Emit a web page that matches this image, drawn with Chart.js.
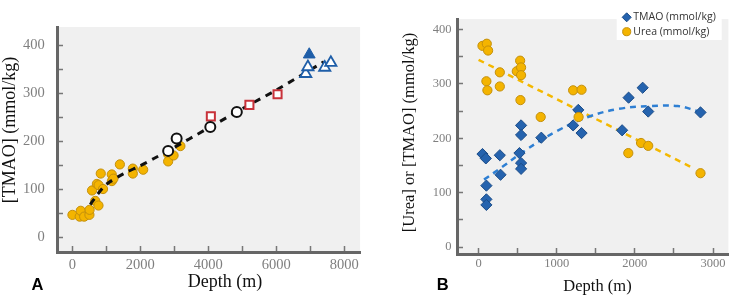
<!DOCTYPE html>
<html><head><meta charset="utf-8">
<script src="https://cdn.jsdelivr.net/npm/chart.js@4.4.1/dist/chart.umd.min.js"></script>
<style>
html,body{margin:0;padding:0;background:#fff;}
#wrap{position:relative;width:735px;height:298px;overflow:hidden;}
#ca{position:absolute;left:0;top:0;}
#cb{position:absolute;left:370px;top:0;}
</style></head><body>
<div id="wrap"><canvas id="ca" width="370" height="298"></canvas><canvas id="cb" width="365" height="298"></canvas></div>
<script>
// ---------- Panel A data (Depth m, [TMAO] mmol/kg) ----------
const aYellowX = [5, 219, 249, 350, 505, 510, 581, 676, 771, 724, 775, 905, 838, 1162, 1165, 1210, 1400, 1781, 1781, 2086, 2820, 2820, 2980, 3180];
const aYellowY = [46.5, 42.8, 55, 42.8, 46.5, 57, 97.4, 75.6, 66, 111, 108.5, 100.4, 132.7, 130.8, 117, 122, 151.8, 143, 132.7, 140.7, 172.9, 158, 170.4, 190];
const aOpenCircleX = [2820, 3070, 4060, 4840];
const aOpenCircleY = [180, 206, 230, 261];
const aSquareX = [4076, 5210, 6038];
const aSquareY = [252, 276, 298];
const aFilledTriX = [6970];
const aFilledTriY = [381];
const aOpenTriX = [6866, 6930, 7425, 7605];
const aOpenTriY = [341, 355, 354, 364];
const aFitX = [530, 750, 1000, 1500, 2000, 2400, 2820, 4060, 5000, 6000, 7400];
const aFitY = [68, 90, 110, 132, 149, 164, 180, 230, 268, 307, 366];
const aTickX = [0, 1000, 2000, 3000, 4000, 5000, 6000, 7000, 8000];
const aLabelX = [0, 2000, 4000, 6000, 8000];
const aTickY = [0, 50, 100, 150, 200, 250, 300, 350, 400];
const aLabelY = [0, 100, 200, 300, 400];

// ---------- Panel B data (Depth m, [Urea]/[TMAO] mmol/kg) ----------
const bTmaoX = [50, 93, 272, 281, 100, 100, 100, 523, 544, 544, 544, 544, 803, 1210, 1318, 1276, 2100, 1920, 2171, 1837, 2840];
const bTmaoY = [171, 163, 168.8, 133, 113, 87.8, 77.6, 172.7, 154.5, 143.8, 223.6, 206, 201, 223.6, 209.5, 252, 292.7, 274.5, 249, 214.6, 247.4];
const bUreaX = [50, 105, 122, 100, 113, 272, 272, 489, 532, 544, 544, 536, 795, 1210, 1318, 1280, 1916, 2079, 2171, 2840];
const bUreaY = [369.6, 373.5, 361, 304.6, 288, 321, 295, 323, 342.4, 330, 315.8, 270, 239, 288, 289, 239, 172.7, 191.3, 186, 135.8];
const bTmaoFitX = [70, 300, 600, 1000, 1400, 1800, 2200, 2550, 2800];
const bTmaoFitY = [124, 147, 178, 213, 239, 254, 259, 259, 250];
const bUreaFitX = [0, 2750];
const bUreaFitY = [344, 145];
const bTickX = [0, 500, 1000, 1500, 2000, 2500, 3000];
const bLabelX = [0, 1000, 2000, 3000];
const bTickY = [0, 50, 100, 150, 200, 250, 300, 350, 400];
const bLabelY = [0, 100, 200, 300, 400];

const SERIF = '"Liberation Serif", "Times New Roman", serif';
const SANS = '"Liberation Sans", Arial, sans-serif';
const pts = (xs, ys) => xs.map((x, i) => ({x: x, y: ys[i]}));

const bgPlugin = {
  id: 'plotBg',
  beforeDraw(chart) {
    const {ctx, chartArea: a} = chart;
    ctx.save();
    ctx.fillStyle = '#f0f0f0';
    ctx.fillRect(a.left, a.top, a.right - a.left, a.bottom - a.top);
    ctx.restore();
  }
};

const textPlugin = {
  id: 'panelText',
  afterDraw(chart, args, o) {
    const ctx = chart.ctx;
    (o.items || []).forEach(t => {
      ctx.save();
      ctx.font = t.font;
      ctx.fillStyle = t.color || '#111';
      ctx.textAlign = t.align || 'center';
      ctx.textBaseline = t.baseline || 'middle';
      ctx.translate(t.x, t.y);
      if (t.rot) ctx.rotate(t.rot);
      ctx.fillText(t.text, 0, 0);
      ctx.restore();
    });
  }
};

const legendPlugin = {
  id: 'boxLegend',
  afterDraw(chart, args, o) {
    if (!o.entries) return;
    const ctx = chart.ctx;
    ctx.save();
    ctx.fillStyle = '#ffffff';
    ctx.fillRect(o.x, o.y, o.w, o.h);
    ctx.font = o.font;
    ctx.textAlign = 'left';
    ctx.textBaseline = 'middle';
    o.entries.forEach((idx, i) => {
      const ds = chart.data.datasets[idx];
      const cx = o.x + o.mx, cy = o.y + o.first + i * o.gap, r = o.r;
      ctx.beginPath();
      if (ds.pointStyle === 'rectRot') {
        ctx.moveTo(cx - r, cy); ctx.lineTo(cx, cy - r); ctx.lineTo(cx + r, cy); ctx.lineTo(cx, cy + r); ctx.closePath();
      } else {
        ctx.arc(cx, cy, r * 0.9, 0, Math.PI * 2);
      }
      ctx.fillStyle = ds.backgroundColor; ctx.fill();
      ctx.lineWidth = 1; ctx.strokeStyle = ds.borderColor; ctx.stroke();
      ctx.fillStyle = '#333';
      ctx.fillText(ds.label, o.x + o.tx, cy);
    });
    ctx.restore();
  }
};

function makeScale(c) {
  return {
    type: 'linear', min: c.min, max: c.max,
    afterBuildTicks: s => { s.ticks = c.ticks.map(v => ({value: v})); },
    afterFit: s => { if (c.width != null) s.width = c.width; if (c.height != null) s.height = c.height; },
    grid: {drawOnChartArea: false, drawTicks: true, tickLength: -6, tickColor: '#777', tickWidth: 1.5},
    border: {display: true, color: '#666', width: 3},
    ticks: {autoSkip: false, maxRotation: 0, minRotation: 0, padding: c.pad, color: '#7f7f7f',
            font: {family: SERIF, size: c.fs},
            callback: v => c.labels.includes(v) ? String(v) : ''},
    title: {display: false}
  };
}

const common = {
  responsive: false, animation: false, devicePixelRatio: 1,
  events: []
};

// ---------- Chart A ----------
new Chart(document.getElementById('ca'), {
  type: 'scatter',
  data: {
    datasets: [
      {label: 'Shallow', data: pts(aYellowX, aYellowY), pointStyle: 'circle', pointRadius: 4.6,
       backgroundColor: '#f4b400', borderColor: '#c4900c', borderWidth: 1, order: 4},
      {label: 'Fit', data: pts(aFitX, aFitY), showLine: true, pointRadius: 0, borderColor: '#111',
       borderWidth: 3, borderDash: [7, 6], tension: 0.3, fill: false, order: 3},
      {label: 'Open circles', data: pts(aOpenCircleX, aOpenCircleY), pointStyle: 'circle', pointRadius: 5,
       backgroundColor: '#ffffff', borderColor: '#111', borderWidth: 2, order: 1},
      {label: 'Squares', data: pts(aSquareX, aSquareY), pointStyle: 'rect', pointRadius: 5.7,
       backgroundColor: '#ffffff', borderColor: '#c8323a', borderWidth: 2, order: 1},
      {label: 'Filled triangle', data: pts(aFilledTriX, aFilledTriY), pointStyle: 'triangle', pointRadius: 6.8,
       backgroundColor: '#1f5ea8', borderColor: '#1f5ea8', borderWidth: 1, order: 1},
      {label: 'Open triangles', data: pts(aOpenTriX, aOpenTriY), pointStyle: 'triangle', pointRadius: 6.5,
       backgroundColor: '#ffffff', borderColor: '#1f5ea8', borderWidth: 1.8, order: 1}
    ]
  },
  options: Object.assign({}, common, {
    layout: {padding: {left: 0, right: 1, top: 0, bottom: 0}},
    scales: {
      x: makeScale({min: -449, max: 8466, ticks: aTickX, labels: aLabelX, height: 46, pad: 10.8, fs: 14.5}),
      y: makeScale({min: -31, max: 438.5, ticks: aTickY, labels: aLabelY, width: 57, pad: 18.3, fs: 14.5})
    },
    plugins: {
      legend: {display: false}, tooltip: {enabled: false},
      panelText: {items: [
        {text: 'Depth (m)', x: 225, y: 282.5, font: '18px ' + SERIF},
        {text: '[TMAO] (mmol/kg)', x: 10.5, y: 130, rot: -Math.PI / 2, font: '18px ' + SERIF},
        {text: 'A', x: 31.5, y: 290, align: 'left', baseline: 'alphabetic', font: 'bold 16.5px ' + SANS, color: '#000'}
      ]}
    }
  }),
  plugins: [bgPlugin, textPlugin]
});

// ---------- Chart B ----------
new Chart(document.getElementById('cb'), {
  type: 'scatter',
  data: {
    datasets: [
      {label: 'TMAO (mmol/kg)', data: pts(bTmaoX, bTmaoY), pointStyle: 'rectRot', pointRadius: 5.6,
       backgroundColor: '#2563ae', borderColor: '#1b4c88', borderWidth: 1, order: 1},
      {label: 'Urea (mmol/kg)', data: pts(bUreaX, bUreaY), pointStyle: 'circle', pointRadius: 4.6,
       backgroundColor: '#f4b400', borderColor: '#c4900c', borderWidth: 1, order: 0},
      {label: 'TMAO fit', data: pts(bTmaoFitX, bTmaoFitY), showLine: true, pointRadius: 0, borderColor: '#2e7fd3',
       borderWidth: 2.5, borderDash: [6, 5], tension: 0.4, fill: false, order: 3},
      {label: 'Urea fit', data: pts(bUreaFitX, bUreaFitY), showLine: true, pointRadius: 0, borderColor: '#f4b800',
       borderWidth: 2.5, borderDash: [6, 5], tension: 0, fill: false, order: 3}
    ]
  },
  options: Object.assign({}, common, {
    layout: {padding: {left: 0, right: 1, top: 0, bottom: 0}},
    scales: {
      x: makeScale({min: -276, max: 3197, ticks: bTickX, labels: bLabelX, height: 44, pad: 8.1, fs: 12.5}),
      y: makeScale({min: -12.5, max: 418.7, ticks: bTickY, labels: bLabelY, width: 87, pad: 11.6, fs: 12.5})
    },
    plugins: {
      legend: {display: false}, tooltip: {enabled: false},
      boxLegend: {entries: [0, 1], x: 246.7, y: 9.5, w: 105, h: 30.5, mx: 10, first: 7.8, gap: 14.4, r: 4.5, tx: 16.6,
                  font: '10.5px "Open Sans", "DejaVu Sans", sans-serif'},
      panelText: {items: [
        {text: 'Depth (m)', x: 227.5, y: 286.7, font: '16.5px ' + SERIF},
        {text: '[Urea] or [TMAO] (mmol/kg)', x: 40, y: 132.5, rot: -Math.PI / 2, font: '16.5px ' + SERIF},
        {text: 'B', x: 66.7, y: 290, align: 'left', baseline: 'alphabetic', font: 'bold 16.5px ' + SANS, color: '#000'}
      ]}
    }
  }),
  plugins: [bgPlugin, legendPlugin, textPlugin]
});
</script>
</body></html>
